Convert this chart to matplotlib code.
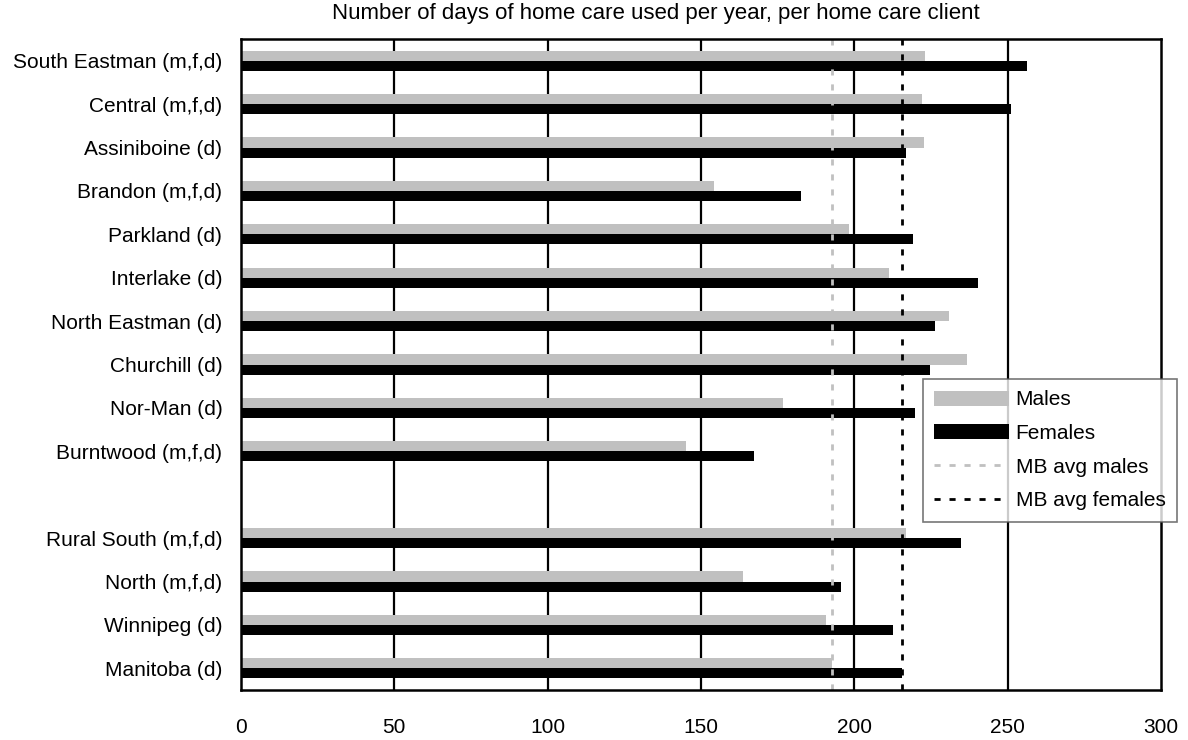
import matplotlib
matplotlib.use("Agg")
import matplotlib.pyplot as plt
from matplotlib.patches import Patch
from matplotlib.lines import Line2D

plt.rcParams['font.family'] = ['Liberation Sans', 'DejaVu Sans']

categories = ["South Eastman (m,f,d)", "Central (m,f,d)", "Assiniboine (d)", "Brandon (m,f,d)",
              "Parkland (d)", "Interlake (d)", "North Eastman (d)", "Churchill (d)",
              "Nor-Man (d)", "Burntwood (m,f,d)", "",
              "Rural South (m,f,d)", "North (m,f,d)", "Winnipeg (d)", "Manitoba (d)"]
males = [223.0, 222.2, 222.7, 154.2, 198.3, 211.2, 230.8, 236.8, 176.8, 145.1, None,
         216.8, 163.7, 190.6, 192.8]
females = [256.3, 251.1, 216.8, 182.6, 219.1, 240.3, 226.2, 224.6, 219.8, 167.3, None,
           234.8, 195.6, 212.6, 215.5]
mb_avg_males = 192.8
mb_avg_females = 215.5
xticks = [0, 50, 100, 150, 200, 250, 300]
title = "Number of days of home care used per year, per home care client"

fig = plt.figure(figsize=(11.88, 7.40), dpi=100)
ax = fig.add_axes([241/1188, 1-690/740, 920/1188, 651/740])

h = 0.235
for i, (m, f) in enumerate(zip(males, females)):
    if m is None:
        continue
    ax.barh(i - h/2, m, height=h, color="#c0c0c0", zorder=3)
    ax.barh(i + h/2, f, height=h, color="black", zorder=3)

for x in xticks[1:-1]:
    ax.axvline(x, color="black", lw=1.6, zorder=1)

ax.axvline(mb_avg_males, color="#c0c0c0", lw=2.0, ls=(0, (2.2, 3.2)), zorder=4)
ax.axvline(mb_avg_females, color="black", lw=2.0, ls=(0, (2.2, 3.2)), zorder=4)

ax.set_xlim(0, 300)
ax.set_ylim(len(categories) - 0.5, -0.5)
ax.set_yticks(range(len(categories)))
ax.set_yticklabels(categories, fontsize=15)
ax.set_xticks(xticks)
ax.set_xticklabels([str(t) for t in xticks], fontsize=15)
ax.tick_params(axis='both', length=0)
ax.tick_params(axis='x', pad=20)
ax.tick_params(axis='y', pad=13.5)
for s in ax.spines.values():
    s.set_linewidth(1.8)
    s.set_zorder(5)

fig.text(656/1188, 1-18.5/740, title, ha="center", va="baseline", fontsize=16)

handles = [Patch(facecolor="#c0c0c0", edgecolor="none", label="Males"),
           Patch(facecolor="black", edgecolor="none", label="Females"),
           Line2D([0], [0], color="#c0c0c0", lw=2.0, ls=(0, (2.2, 3.2)), label="MB avg males"),
           Line2D([0], [0], color="black", lw=2.0, ls=(0, (2.2, 3.2)), label="MB avg females")]
leg = fig.legend(handles=handles, loc="upper left", bbox_to_anchor=(923/1188, 1-379/740),
                 fontsize=15, frameon=True, fancybox=False, edgecolor="#555555",
                 handlelength=3.6, handleheight=0.72, handletextpad=0.3, borderpad=0.55,
                 labelspacing=0.7, borderaxespad=0)
leg.get_frame().set_linewidth(1.2)

fig.savefig("out.png", dpi=100)
